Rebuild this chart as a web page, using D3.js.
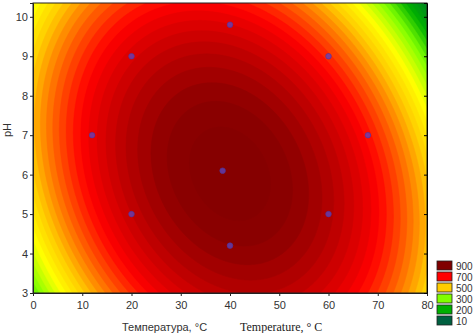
<!DOCTYPE html>
<html>
<head>
<meta charset="utf-8">
<script src="https://cdn.jsdelivr.net/npm/d3@7"></script>
<style>
  body { margin: 0; background: #fff; }
  svg { display: block; }
</style>
</head>
<body>
<div id="chart-area"></div>
<script>
// axes
const tempTicks = [0, 10, 20, 30, 40, 50, 60, 70, 80];
const phTicks = [3, 4, 5, 6, 7, 8, 9, 10];

// legend levels + colours
const legendLevels = [900, 700, 500, 300, 200, 10];
const legendColors = ["#800000", "#ff0000", "#ffcc00", "#80ff00", "#00b000", "#006040"];

// design points (Temperature, pH)
const designT = [40, 20, 60, 12, 68, 38.5, 20, 60, 40];
const designPH = [9.8, 9, 9, 7, 7, 6.1, 5, 5, 4.2];

// fitted response surface, coded vars t=(T-40)/40, p=(pH-6.5)/3.5
// [b0, bT, bpH, bTT, bpHpH, bTpH]
const surfaceCoef = [940, -17.5, -45, -447.5, -165, -122.5];

const margin = { left: 33, right: 47, top: 3, bottom: 40 };
const W = 474, H = 333;
const width = W - margin.left - margin.right,   // 394
      height = H - margin.top - margin.bottom;  // 290

const svg = d3.select("#chart-area")
  .append("svg")
    .attr("width", W)
    .attr("height", H);

const g = svg.append("g")
    .attr("transform", "translate(" + margin.left + "," + margin.top + ")");

const xScale = d3.scaleLinear().domain([0, 80]).range([0, width]);
const yScale = d3.scaleLinear().domain([3, 10.35]).range([height, 0]);

const color = d3.scaleLinear()
  .domain([10, 200, 300, 410, 500, 700, 900, 1000])
  .range(["#006040", "#00b000", "#80ff00", "#ffff00", "#ffcc00", "#ff0000", "#8c0000", "#7c0000"])
  .clamp(true);

function surface(T, pH) {
  const t = (T - 40) / 40, p = (pH - 6.5) / 3.5;
  const c = surfaceCoef;
  return c[0] + c[1] * t + c[2] * p + c[3] * t * t + c[4] * p * p + c[5] * t * p;
}

// grid sampled at pixel resolution
const nx = Math.round(width), ny = Math.round(height);
const values = new Array(nx * ny);
for (let j = 0; j < ny; j++) {
  for (let i = 0; i < nx; i++) {
    values[j * nx + i] = surface(xScale.invert(i + 0.5), yScale.invert(j + 0.5));
  }
}

const step = 25;
const thresholds = d3.range(0, 1000, step);
const contours = d3.contours().size([nx, ny]).thresholds(thresholds)(values);

const path = d3.geoPath(d3.geoIdentity().scale(width / nx));

g.append("clipPath").attr("id", "clip")
  .append("rect").attr("width", width).attr("height", height);

g.append("g")
    .attr("clip-path", "url(#clip)")
  .selectAll("path")
  .data(contours)
  .enter()
  .append("path")
    .attr("d", path)
    .attr("fill", (d) => color(d.value + step / 2))
    .attr("stroke", (d) => color(d.value + step / 2))
    .attr("stroke-width", 0.5);

// design points
g.selectAll("circle")
  .data(designT.map((t, i) => [t, designPH[i]]))
  .enter()
  .append("circle")
    .attr("cx", (d) => xScale(d[0]))
    .attr("cy", (d) => yScale(d[1]))
    .attr("r", 2.8)
    .attr("fill", "#5a46c8")
    .attr("fill-opacity", 0.75)
    .attr("stroke", "#4a36a0")
    .attr("stroke-width", 0.6);

// frame
g.append("rect")
    .attr("width", width)
    .attr("height", height)
    .attr("fill", "none")
    .attr("stroke", "#222")
    .attr("stroke-width", 1);

const xAxis = g.append("g")
    .attr("transform", "translate(0," + height + ")")
    .call(d3.axisBottom(xScale).tickValues(tempTicks).tickSize(3).tickPadding(5));
const yAxis = g.append("g")
    .call(d3.axisLeft(yScale).tickValues(phTicks).tickSize(3).tickPadding(2));
g.append("g")
    .attr("transform", "translate(" + width + ",0)")
    .call(d3.axisRight(yScale).tickValues(phTicks).tickSize(-3).tickFormat(""));

[xAxis, yAxis].forEach((a) => {
  a.select(".domain").attr("stroke", "#222");
  a.selectAll(".tick line").attr("stroke", "#222");
  a.selectAll("text")
    .attr("font-family", "Liberation Sans, Arial, sans-serif")
    .attr("font-size", 11)
    .attr("fill", "#333");
});

// axis titles
svg.append("text")
    .attr("x", 122)
    .attr("y", 331)
    .attr("font-family", "Liberation Sans, Arial, sans-serif")
    .attr("font-size", 11)
    .attr("fill", "#333")
    .text("Температура, °C");

svg.append("text")
    .attr("x", 240)
    .attr("y", 331)
    .attr("font-family", "Liberation Serif, Times New Roman, serif")
    .attr("font-size", 12)
    .attr("fill", "#222")
    .text("Temperature, ° C");

svg.append("text")
    .attr("transform", "translate(11,130) rotate(-90)")
    .attr("text-anchor", "middle")
    .attr("font-family", "Liberation Sans, Arial, sans-serif")
    .attr("font-size", 11)
    .attr("fill", "#333")
    .text("pH");

// legend
const legend = svg.append("g")
    .attr("transform", "translate(437,261)");

const items = legend.selectAll("g")
  .data(legendLevels)
  .enter()
  .append("g")
    .attr("transform", (d, i) => "translate(0," + i * 11 + ")");

items.append("rect")
    .attr("width", 15)
    .attr("height", 9)
    .attr("fill", (d, i) => legendColors[i])
    .attr("stroke", "#222")
    .attr("stroke-width", 0.8);

items.append("text")
    .attr("x", 19)
    .attr("y", 8.5)
    .attr("font-family", "Liberation Sans, Arial, sans-serif")
    .attr("font-size", 10)
    .attr("fill", "#333")
    .text((d) => d);
</script>
</body>
</html>
